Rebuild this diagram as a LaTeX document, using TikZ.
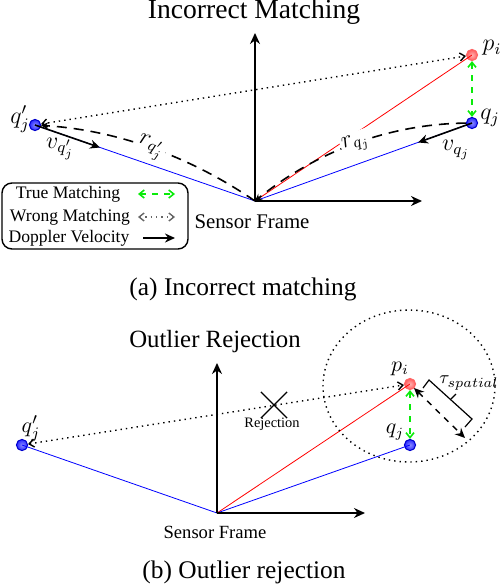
\documentclass[tikz,border=0pt]{standalone}
\usepackage{fontspec}
\setmainfont{Liberation Serif}
\usepackage{amsmath, amssymb}
\usetikzlibrary{shapes, shapes.misc, arrows.meta}

\definecolor{matchgreen}{RGB}{10,235,10}

\begin{document}
\begin{tikzpicture}[x=0.5pt,y=-0.5pt,
		redpt/.style={circle,inner sep=0pt,minimum size=5.6pt,draw=red!60,line width=0.5pt,inner color=red!30,outer color=red!65},
		bluept/.style={circle,inner sep=0pt,minimum size=5.6pt,draw=blue!80!black,line width=0.5pt,inner color=blue!45,outer color=blue!85},
		axis/.style={line width=0.8pt,-{Stealth[length=5.5pt,width=5pt]}},
		velo/.style={line width=0.8pt,-{Stealth[length=5pt,width=4.5pt]}},
		rline/.style={line width=0.8pt,dash pattern=on 5pt off 3.5pt},
		truematch/.style={matchgreen,line width=0.8pt,dashed,{Straight Barb[length=2.5pt,width=4pt]}-{Straight Barb[length=2.5pt,width=4pt]}},
		wrongmatch/.style={line width=0.7pt,dotted,{Straight Barb[length=2.5pt,width=4pt]}-{Straight Barb[length=2.5pt,width=4pt]}},
		ttl/.style={font=\fontsize{13.8}{16}\selectfont},
		capt/.style={font=\fontsize{12.7}{15}\selectfont}]
		\useasboundingbox (0,0) rectangle (500,584);

		% (a) incorrect matching
		\node[ttl] (title1) at (254,12) {Incorrect Matching};
		\coordinate (o1) at (255,201);
		\coordinate (y1) at (255,33);
		\coordinate (x1) at (422,201);
		\node[redpt] (p1) at (472,55) {};
		\node[bluept] (q1) at (472,123) {};
		\node[bluept] (qq1) at (35,125) {};
		\draw[red,line width=0.4pt] (o1) -- (p1.center);
		\draw[blue,line width=0.4pt] (o1) -- (q1.center);
		\draw[blue,line width=0.4pt] (o1) -- (qq1.center);
		\draw[axis] (o1) -- (y1);
		\draw[axis] (o1) -- (x1);
		\draw[wrongmatch] (qq1) -- (p1);
		\draw[truematch] (p1) -- (q1);
		\coordinate (vqq1) at (100,147.5);
		\coordinate (vq1) at (418,142.5);
		\draw[velo] (qq1.center) -- (vqq1);
		\draw[velo] (q1.center) -- (vq1);
		\draw[rline,-{Stealth[length=3.5pt,width=3.5pt]}] (o1) .. controls (188,155) and (115,130) .. (qq1)
			node[midway,sloped,fill=white,inner sep=1pt,font=\fontsize{12}{14}\selectfont] (rqq1) {$r_{q'_j}$};
		\draw[rline,-{Stealth[length=3.5pt,width=3.5pt]}] (q1) .. controls (391,124) and (318,150) .. (o1)
			node[midway,sloped,fill=white,inner sep=1pt,font=\fontsize{12}{14}\selectfont] (rq1) {$r_{q_j}$};
		\node[font=\fontsize{12}{14}\selectfont] (p1lbl) at (492,48) {$p_i$};
		\node[font=\fontsize{12}{14}\selectfont] (q1lbl) at (490,118) {$q_j$};
		\node[font=\fontsize{12}{14}\selectfont] (qq1lbl) at (20,119) {$q'_j$};
		\node[font=\fontsize{12}{14}\selectfont] (vqq1lbl) at (60,149) {$v_{q'_j}$};
		\node[font=\fontsize{12}{14}\selectfont] (vq1lbl) at (456,150) {$v_{q_j}$};
		\node[font=\fontsize{10.4}{12}\selectfont] (sf1) at (252,222) {Sensor Frame};
		\node[draw,line width=0.7pt,rounded corners=5pt,minimum width=93pt,minimum height=33pt] (legend) at (95,216) {};
		\node[font=\fontsize{8.8}{10}\selectfont] (ltrue) at (68,194) {True Matching};
		\node[font=\fontsize{8.8}{10}\selectfont] (lwrong) at (70,217) {Wrong Matching};
		\node[font=\fontsize{8.8}{10}\selectfont] (ldop) at (69,238) {Doppler Velocity};
		\coordinate (lt1) at (138,194);
		\coordinate (lt2) at (175,194);
		\coordinate (lw1) at (138,217);
		\coordinate (lw2) at (175,217);
		\coordinate (ld1) at (143,238);
		\coordinate (ld2) at (175,238);
		\draw[truematch] (lt1) -- (lt2);
		\draw[wrongmatch,black!60] (lw1) -- (lw2);
		\draw[velo] (ld1) -- (ld2);
		\node[capt] (cap1) at (243,289) {(a) Incorrect matching};

		% (b) outlier rejection
		\node[font=\fontsize{12.4}{15}\selectfont] (title2) at (215,342) {Outlier Rejection};
		\coordinate (o2) at (217,513);
		\coordinate (y2) at (217,363);
		\coordinate (x2) at (365,513);
		\node[redpt] (p2) at (410,384) {};
		\node[bluept] (q2) at (410,445) {};
		\node[bluept] (qq2) at (22,445) {};
		\draw[red,line width=0.4pt] (o2) -- (p2.center);
		\draw[blue,line width=0.4pt] (o2) -- (q2.center);
		\draw[blue,line width=0.4pt] (o2) -- (qq2.center);
		\draw[axis] (o2) -- (y2);
		\draw[axis] (o2) -- (x2);
		\draw[line width=0.7pt,dotted] (409,386) ellipse [x radius=43pt,y radius=38pt];
		\draw[wrongmatch] (qq2) -- (p2);
		\draw[truematch] (p2) -- (q2);
		\node[draw,cross out,line width=0.6pt,minimum size=12.5pt,inner sep=0pt] (rej) at (274,405) {};
		\node[font=\fontsize{7.2}{9}\selectfont] (rejlbl) at (272,424) {Rejection};
		\coordinate (t1) at (414,388);
		\coordinate (t2) at (465,438);
		\draw[line width=0.7pt,dashed,{Stealth[length=5pt,width=4.5pt]}-{Stealth[length=5pt,width=4.5pt]}] (t1) -- (t2);
		\coordinate (b1) at (423,388);
		\coordinate (b2) at (429,380);
		\coordinate (b3) at (472,419);
		\coordinate (b4) at (465,427);
		\coordinate (bm) at (451,399);
		\coordinate (bt) at (456,394);
		\draw[line width=0.6pt] (b1) -- (b2) -- (b3) -- (b4);
		\draw[line width=0.6pt] (bm) -- (bt);
		\node[font=\fontsize{9.5}{11}\selectfont] (taulbl) at (469,383) {$\tau_{spatial}$};
		\node[font=\fontsize{10.5}{12}\selectfont] (p2lbl) at (400,369) {$p_i$};
		\node[font=\fontsize{10.5}{12}\selectfont] (q2lbl) at (395,432) {$q_j$};
		\node[font=\fontsize{11}{13}\selectfont] (qq2lbl) at (31,429) {$q'_j$};
		\node[font=\fontsize{9.3}{11}\selectfont] (sf2) at (215,532) {Sensor Frame};
		\node[capt] (cap2) at (244,572) {(b) Outlier rejection};
\end{tikzpicture}
\end{document}
